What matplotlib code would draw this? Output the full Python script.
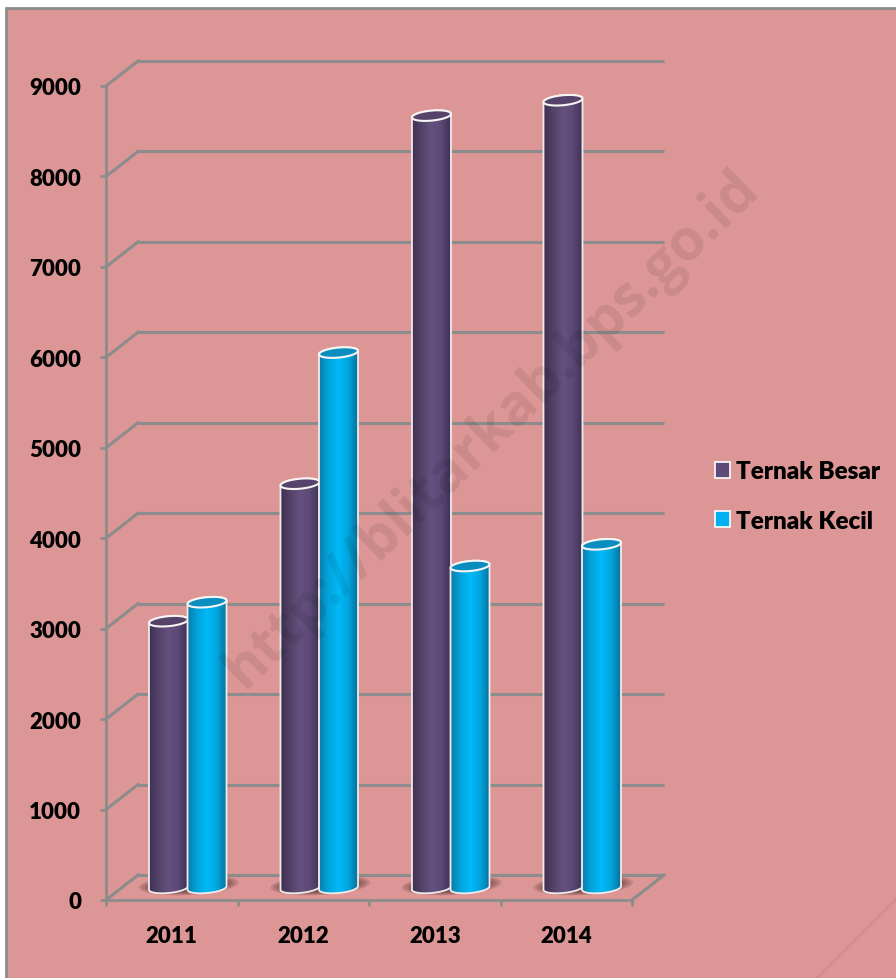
import numpy as np
import matplotlib
matplotlib.use("Agg")
import matplotlib.pyplot as plt
from matplotlib.colors import LinearSegmentedColormap
from matplotlib.lines import Line2D
from matplotlib.patches import Ellipse, PathPatch, Patch, Rectangle
from matplotlib.path import Path
from matplotlib.transforms import Affine2D, IdentityTransform

years = ["2011", "2012", "2013", "2014"]
ternak_besar = [2950, 4470, 8540, 8710]
ternak_kecil = [3160, 5920, 3560, 3800]
y_ticks = [0, 1000, 2000, 3000, 4000, 5000, 6000, 7000, 8000, 9000]

W, H = 896, 979
GRAY = "#8C8C8C"
plt.rcParams["font.family"] = ["Lato", "DejaVu Sans"]

fig = plt.figure(figsize=(W / 100, H / 100), dpi=100, facecolor="white")

# slide background, the border only shows on top and left
fig.add_artist(Rectangle((6 / W, -0.01), 1, 1 - 9 / H + 0.01, transform=fig.transFigure,
                         facecolor="#DB9695", edgecolor=GRAY, linewidth=2, zorder=-2))
fig.add_artist(Line2D([817 / W, 1], [0, 79 / H], color="#D28D8C", lw=2, zorder=-1))

ax = fig.add_axes([106 / W, (H - 901) / H, 526 / W, 814 / H])
ax.patch.set_visible(False)
for s in ["top", "right"]:
    ax.spines[s].set_visible(False)
for s in ["left", "bottom"]:
    ax.spines[s].set_color(GRAY)
    ax.spines[s].set_linewidth(2)
ax.set_xlim(0, 4)
ax.set_ylim(0, 9000)

# fake 3d: back wall is shifted by this many pixels
depth = Affine2D().translate(32, 25)
middle = Affine2D().translate(16, 12)

ax.hlines(y_ticks, 0, 4, colors=GRAY, lw=2.2, transform=ax.transData + depth, clip_on=False, zorder=1)
for t in y_ticks:
    p0 = ax.transData.transform((0, t))
    ax.add_line(Line2D([p0[0], p0[0] + 32], [p0[1], p0[1] + 25], color=GRAY, lw=2.2,
                       transform=IdentityTransform(), clip_on=False, zorder=1))
p0 = ax.transData.transform((4, 0))
ax.add_line(Line2D([p0[0], p0[0] + 32], [p0[1], p0[1] + 25], color=GRAY, lw=2.2,
                   transform=IdentityTransform(), clip_on=False, zorder=1))

ax.set_yticks(y_ticks)
ax.set_xticks(np.arange(5))
ax.set_xticklabels([])
ax.set_xticks(np.arange(4) + 0.5, labels=years, minor=True)
ax.tick_params(axis="both", which="major", color=GRAY, width=2, length=4.5)
ax.tick_params(axis="y", pad=13.5, labelsize=16, labelcolor="black")
ax.tick_params(axis="x", which="minor", length=0, pad=18.3, labelsize=16, labelcolor="black")
for lab in ax.get_yticklabels() + ax.get_xticklabels(minor=True):
    lab.set_fontweight("heavy")

purple_map = LinearSegmentedColormap.from_list("p", ["#3F3154", "#554369", "#655180", "#5C4976", "#3F3154"])
blue_map = LinearSegmentedColormap.from_list("b", ["#0A7FAB", "#02A5DE", "#00BAF8", "#02A5DE", "#06739C"])
ramp = np.linspace(0, 1, 64).reshape(1, -1)


def ellipse_points(cx, cy, t):
    # sheared so that the sides stay vertical and the ellipse leans up to the right
    a, b, lean = 19.5, 5.0, 0.09
    return np.column_stack([cx + a * np.cos(t), cy + b * np.sin(t) + lean * a * np.cos(t)])


def draw_cylinder(x_left, width, value, cmap, cap_color, z):
    left, base = (ax.transData + middle).transform((x_left, 0))
    right, top = (ax.transData + middle).transform((x_left + width, value))
    cx = (left + right) / 2
    lower = ellipse_points(cx, base, np.linspace(np.pi, 2 * np.pi, 40))
    upper = ellipse_points(cx, top, np.linspace(0, np.pi, 40))
    verts = np.vstack([lower, upper, lower[:1]])
    body = PathPatch(Path(verts, closed=True), facecolor="none", edgecolor="#F0ECEC", lw=1.3,
                     transform=IdentityTransform(), clip_on=False, zorder=z + 0.2)
    ax.add_patch(body)
    im = ax.imshow(ramp, cmap=cmap, aspect="auto", vmin=0, vmax=1,
                   extent=(x_left, x_left + width, -200, value + 200),
                   transform=ax.transData + middle, zorder=z, interpolation="bilinear")
    im.set_clip_path(body)
    cap = Path(ellipse_points(cx, top, np.linspace(0, 2 * np.pi, 60)), closed=True)
    ax.add_patch(PathPatch(cap, facecolor=cap_color, edgecolor="#F7F4F4", lw=1.5,
                           transform=IdentityTransform(), clip_on=False, zorder=z + 0.3))


bar_w = 0.293
for i in range(len(years)):
    # soft shadow under each pair
    sx, sy = (ax.transData + middle).transform((i + 0.5, 0))
    for k in range(8):
        ax.add_patch(Ellipse((sx + 1, sy + 3), 100 - k * 6, 20 - k * 1.5, angle=3, facecolor="#4A2828",
                             alpha=0.16, edgecolor="none", transform=IdentityTransform(),
                             clip_on=False, zorder=2))
    draw_cylinder(i + 0.5 - bar_w, bar_w, ternak_besar[i], purple_map, "#554369", 3 + i)
    draw_cylinder(i + 0.5, bar_w, ternak_kecil[i], blue_map, "#0A8DBF", 3.5 + i)

ax.set_xlim(0, 4)
ax.set_ylim(0, 9000)

handles = [Patch(facecolor="#5F497A", edgecolor="white", lw=1.2, label="Ternak Besar"),
           Patch(facecolor="#00B0F0", edgecolor="white", lw=1.2, label="Ternak Kecil")]
fig.legend(handles=handles, loc="center left", bbox_to_anchor=(693 / W, (H - 497) / H), frameon=False,
           prop={"size": 17.4, "weight": "heavy"}, handlelength=0.65, handleheight=0.65,
           handletextpad=0.22, labelspacing=1.15, labelcolor="black")

# watermark sits over the chart
fig.text(492 / W, (H - 430) / H, "http://blitarkab.bps.go.id", family="Open Sans", weight="bold",
         fontsize=41, rotation=44, rotation_mode="anchor", ha="center", va="center",
         color="black", alpha=0.08, zorder=5)

fig.savefig("out.png", dpi=100)
